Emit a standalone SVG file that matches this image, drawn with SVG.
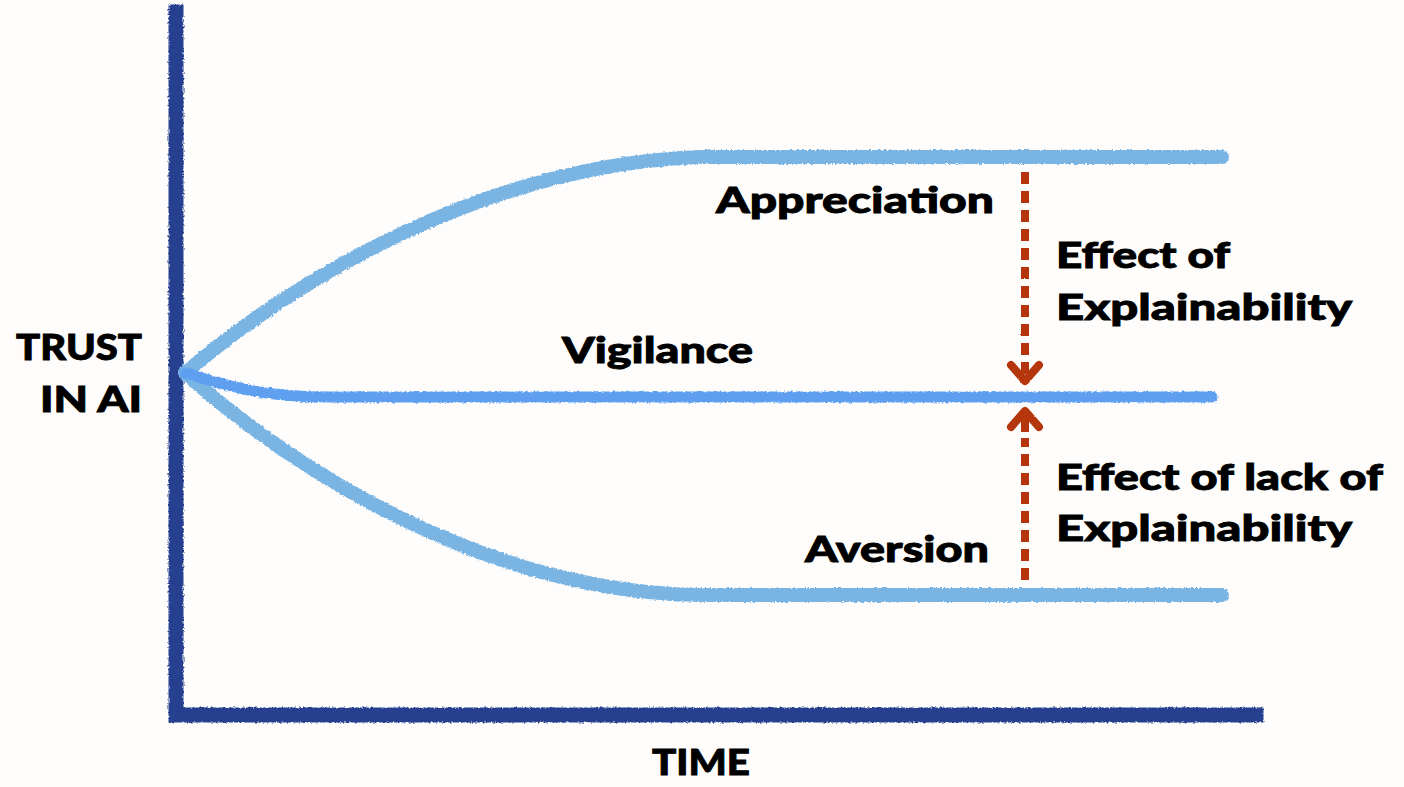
<svg xmlns="http://www.w3.org/2000/svg" width="1404" height="787" viewBox="0 0 1404 787">
  <style>
    .lbl { font-family: Lato, "Open Sans", "Liberation Sans", sans-serif; font-weight: 900; font-size: 36px; fill: #000; stroke: #000; stroke-width: 0.9px; }
    .axis { fill: none; stroke: #26418f; stroke-width: 15; stroke-linecap: square; }
    .trend { fill: none; stroke: #7ab4e3; stroke-width: 14; stroke-linecap: round; }
    .vig { fill: none; stroke: #5f9ff0; stroke-width: 11; stroke-linecap: round; }
    .effect { fill: none; stroke: #b5360f; stroke-width: 8; }
    .dash { stroke-dasharray: 12 7; }
    .head { fill: none; stroke: #b5360f; stroke-width: 8; stroke-linecap: round; stroke-linejoin: round; }
  </style>
  <defs>
    <!-- chalky, ragged edge for all hand-drawn strokes -->
    <filter id="rough" x="-5%" y="-5%" width="110%" height="110%">
      <feTurbulence type="fractalNoise" baseFrequency="0.45" numOctaves="2" seed="3" result="noise"/>
      <feDisplacementMap in="SourceGraphic" in2="noise" scale="3.5" xChannelSelector="R" yChannelSelector="G"/>
    </filter>
    <!-- lighter roughening for the narrow dashed arrows -->
    <filter id="roughLight" x="-50%" y="-5%" width="200%" height="110%">
      <feTurbulence type="fractalNoise" baseFrequency="0.5" numOctaves="1" seed="7" result="noise"/>
      <feDisplacementMap in="SourceGraphic" in2="noise" scale="1.8" xChannelSelector="R" yChannelSelector="G"/>
    </filter>
  </defs>

  <rect width="1404" height="787" fill="#fefdfc"/>

  <g id="axes" filter="url(#rough)">
    <path class="axis" d="M176,12 V715 H1256"/>
  </g>

  <g id="connectors">
    <g id="trend-lines" filter="url(#rough)">
      <path id="appreciation-curve" class="trend" d="M185,373 C300,275 490,165 700,157 L1222,157"/>
      <path id="aversion-curve" class="trend" d="M185,373 C300,475 490,592 700,595 L1222,595"/>
      <path id="vigilance-curve" class="vig" d="M185,373 C230,386 260,397 330,397 L1212,397"/>
    </g>

    <g id="effect-arrows" filter="url(#roughLight)">
      <g id="effect-explainability">
        <path class="effect dash" d="M1025,172 V374"/>
        <path class="head" d="M1011,365 L1025,381 L1039,365"/>
      </g>
      <g id="effect-lack">
        <path class="effect dash" d="M1025,580 V438"/>
        <path class="effect" d="M1025,432 V414"/>
        <path class="head" d="M1011,427 L1025,411 L1039,427"/>
      </g>
    </g>
  </g>

  <g id="label-trust">
    <text class="lbl" x="16" y="360" textLength="126" lengthAdjust="spacingAndGlyphs">TRUST</text>
    <text class="lbl" x="40" y="412" textLength="102" lengthAdjust="spacingAndGlyphs">IN AI</text>
  </g>
  <g id="label-time">
    <text class="lbl" x="652" y="775" textLength="98" lengthAdjust="spacingAndGlyphs">TIME</text>
  </g>
  <g id="label-appreciation">
    <text class="lbl" x="716" y="213" textLength="278" lengthAdjust="spacingAndGlyphs">Appreciation</text>
  </g>
  <g id="label-vigilance">
    <text class="lbl" x="562" y="363" textLength="191" lengthAdjust="spacingAndGlyphs">Vigilance</text>
  </g>
  <g id="label-aversion">
    <text class="lbl" x="805" y="562" textLength="184" lengthAdjust="spacingAndGlyphs">Aversion</text>
  </g>
  <g id="label-effect">
    <text class="lbl" x="1056" y="268" textLength="174" lengthAdjust="spacingAndGlyphs">Effect of</text>
    <text class="lbl" x="1056" y="320" textLength="296" lengthAdjust="spacingAndGlyphs">Explainability</text>
  </g>
  <g id="label-effect-lack">
    <text class="lbl" x="1056" y="490" textLength="327" lengthAdjust="spacingAndGlyphs">Effect of lack of</text>
    <text class="lbl" x="1056" y="541" textLength="296" lengthAdjust="spacingAndGlyphs">Explainability</text>
  </g>
</svg>
